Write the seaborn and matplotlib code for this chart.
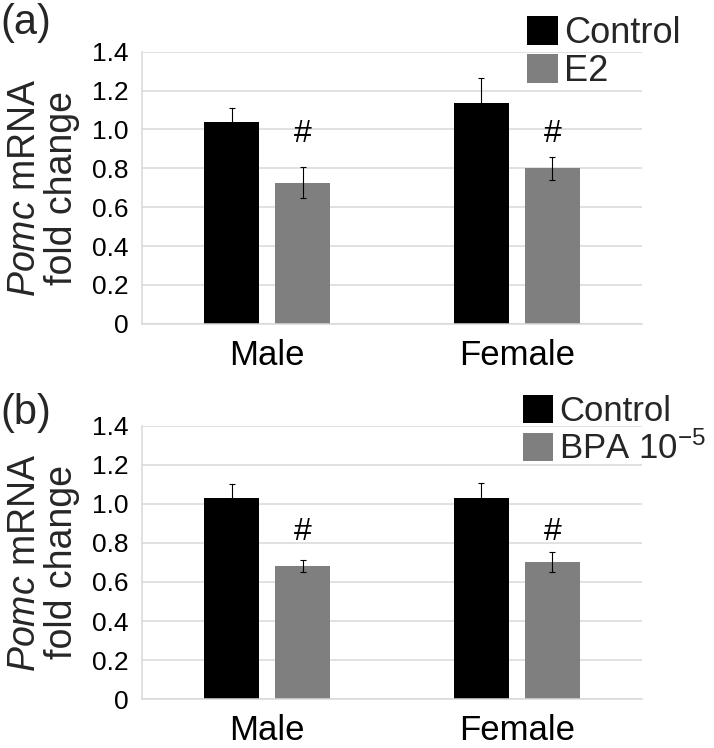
import numpy as np
import pandas as pd
import matplotlib
matplotlib.use("Agg")
import matplotlib.pyplot as plt
import seaborn as sns
from matplotlib import font_manager

# ---- data ----
sexes = ["Male", "Female"]
groups_a = ["Control", "E2"]
means_a_control = [1.04, 1.135]
means_a_treat = [0.725, 0.80]
err_a_control = [0.07, 0.13]
err_a_treat = [0.08, 0.06]
hash_y_a = [0.975, 0.975]

groups_b = ["Control", "BPA 10$^{-5}$"]
means_b_control = [1.033, 1.03]
means_b_treat = [0.682, 0.703]
err_b_control = [0.07, 0.078]
err_b_treat = [0.033, 0.05]
hash_y_b = [0.855, 0.855]

yticks = [0, 0.2, 0.4, 0.6, 0.8, 1.0, 1.2, 1.4]
ytick_labels = ["0", "0.2", "0.4", "0.6", "0.8", "1.0", "1.2", "1.4"]

sns.set_theme(style="white")
avail = {f.name for f in font_manager.fontManager.ttflist}
fam = [f for f in ["Liberation Sans Narrow", "Liberation Sans", "DejaVu Sans"] if f in avail]
plt.rcParams["font.family"] = fam
base = fam[0]
plt.rcParams["mathtext.fontset"] = "custom"
plt.rcParams["mathtext.rm"] = base
plt.rcParams["mathtext.it"] = base + ":italic"
plt.rcParams["mathtext.default"] = "regular"

fig = plt.figure(figsize=(7.14, 7.48), dpi=100)

def panel(rect, groups, mc, mt, ec, et, hy, label, label_y, leg_anchor, leg_fs):
    ax = fig.add_axes(rect)
    df = pd.DataFrame({
        "sex": sexes + sexes,
        "group": [groups[0]] * 2 + [groups[1]] * 2,
        "val": list(mc) + list(mt),
        "err": list(ec) + list(et),
    })
    sns.barplot(data=df, x="sex", y="val", hue="group", order=sexes,
                hue_order=groups, palette=["#000000", "#7f7f7f"],
                width=0.568, gap=0.225, errorbar=None, linewidth=0, ax=ax)
    bars = ax.patches[:4]
    for p, (_, row) in zip(bars, df.iterrows()):
        cx = p.get_x() + p.get_width() / 2
        ax.errorbar(cx, row["val"], yerr=row["err"], fmt="none",
                    ecolor="#000000", elinewidth=0.8, capsize=2.5,
                    capthick=0.8, zorder=5)
    for p, y in zip(bars[2:4], hy):
        cx = p.get_x() + p.get_width() / 2
        ax.text(cx, y, "#", ha="center", va="center", fontsize=23, color="#000000")
    ax.set_ylim(0, 1.4)
    ax.set_xlim(-0.5, 1.5)
    ax.set_yticks(yticks)
    ax.set_yticklabels(ytick_labels)
    ax.yaxis.grid(True, color="#d9d9d9", linewidth=1.1)
    ax.set_axisbelow(True)
    for s in ["top", "right"]:
        ax.spines[s].set_visible(False)
    for s in ["left", "bottom"]:
        ax.spines[s].set_color("#d9d9d9")
        ax.spines[s].set_linewidth(1.1)
    ax.tick_params(axis="y", labelsize=19, pad=10, length=0, colors="#000000")
    ax.tick_params(axis="x", labelsize=25, pad=11, length=0, colors="#000000")
    ax.set_xlabel("")
    ax.set_ylabel("$\\mathit{Pomc}$ mRNA\nfold change", fontsize=27,
                  linespacing=1.05, labelpad=8)
    handles, labels = ax.get_legend_handles_labels()
    ax.get_legend().remove()
    fig.legend(handles, labels, loc="upper left", bbox_to_anchor=leg_anchor,
               bbox_transform=fig.transFigure, frameon=False, fontsize=leg_fs,
               handlelength=0.86, handleheight=0.86, handletextpad=0.17,
               labelspacing=0.1, borderpad=0, borderaxespad=0)
    fig.text(0.0, label_y, label, fontsize=30, ha="left", va="top")
    return ax

panel([0.199, 0.567, 0.700, 0.364], groups_a, means_a_control, means_a_treat,
      err_a_control, err_a_treat, hash_y_a, "(a)", 0.996, (0.738, 0.979), 26)
panel([0.199, 0.0655, 0.700, 0.365], groups_b, means_b_control, means_b_treat,
      err_b_control, err_b_treat, hash_y_b, "(b)", 0.475, (0.733, 0.472), 25)

fig.savefig("out.png", dpi=100)
